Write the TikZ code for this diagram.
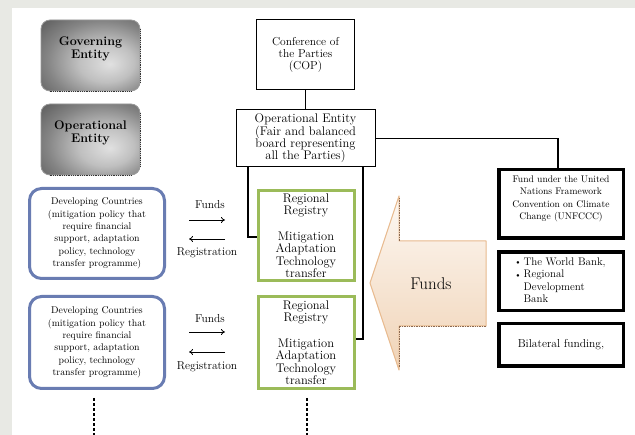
\documentclass[tikz,border=0pt]{standalone}
\usepackage{fontspec}
\usetikzlibrary{arrows.meta}
\definecolor{bggray}{RGB}{232,233,228}
\definecolor{blueC}{RGB}{105,124,178}
\definecolor{greenC}{RGB}{155,187,89}
\definecolor{arrTop}{RGB}{253,248,243}
\definecolor{arrBot}{RGB}{240,211,182}
\definecolor{arrEdge}{RGB}{232,186,142}
\definecolor{arrDot}{RGB}{140,105,80}
\pgfdeclareradialshading{entshade}{\pgfpoint{10bp}{-6bp}}{color(0bp)=(black!12); color(14bp)=(black!25); color(28bp)=(black!48); color(42bp)=(black!66); color(70bp)=(black!76)}
\begin{document}
\begin{tikzpicture}[x=1pt,y=-1pt,
  grayent/.style={rounded corners=9pt, minimum width=99pt, minimum height=71pt, inner sep=0pt,
    draw=gray!80, line width=0.8pt, shading=entshade,
    font=\fontsize{12.5}{12.7}\selectfont\bfseries, align=center},
  bluebox/.style={draw=blueC, line width=3pt, rounded corners=12pt, minimum width=135pt,
    inner sep=0pt, align=center, font=\fontsize{9.8}{12.3}\selectfont},
  greenbox/.style={draw=greenC, line width=3pt, minimum width=96pt, inner sep=0pt,
    align=center, font=\fontsize{12.5}{12.5}\selectfont},
  plainbox/.style={draw=black, line width=1pt, inner sep=0pt, align=center},
  blkbox/.style={draw=black, line width=3.5pt, minimum width=124.5pt, inner sep=0pt, align=center},
  conn/.style={line width=1.2pt},
  flow/.style={-{To[length=4pt,width=6pt]}, line width=0.8pt},
  lbl/.style={font=\fontsize{11.5}{12}\selectfont, inner sep=0pt},
  dotline/.style={line width=2.8pt, dash pattern=on 2.6pt off 2.4pt},
  shadedge/.style={densely dotted, line width=0.8pt, gray!40!black}
]
\useasboundingbox (0,0) rectangle (635,435);
\fill[bggray] (0,0) rectangle (635,435);
\fill[white] (12,8) rectangle (635,435);

% left gray entities
\node[grayent] (gov) at (90.5,55.5) {Governing\\Entity\\[3pt]};
\node[grayent] (ope) at (90.5,139.5) {Operational\\Entity\\[3pt]};
\draw[shadedge] ([xshift=9pt]gov.south west) -- ([xshift=-9pt]gov.south east);
\draw[shadedge] ([yshift=9pt]gov.south east) -- ([yshift=-9pt]gov.north east);
\draw[shadedge] ([xshift=9pt]ope.south west) -- ([xshift=-9pt]ope.south east);
\draw[shadedge] ([yshift=9pt]ope.south east) -- ([yshift=-9pt]ope.north east);

% COP and operational entity
\node[plainbox, minimum width=98pt, minimum height=70pt, font=\fontsize{11.5}{12}\selectfont]
  (cop) at (305.5,55) {Conference of\\the Parties\\(COP)};
\node[plainbox, minimum width=139pt, minimum height=57pt, font=\fontsize{12.5}{12.4}\selectfont]
  (op) at (305.5,138.5) {Operational Entity\\(Fair and balanced\\board representing\\all the Parties)};

% funds on the right
\node[blkbox, minimum height=68.5pt, font=\fontsize{9.6}{12.6}\selectfont] (fund) at (561,204)
  {Fund under the United\\Nations Framework\\Convention on Climate\\Change (UNFCCC)\\\mbox{}};
\node[blkbox, minimum height=58.5pt, font=\fontsize{11}{12.4}\selectfont] (wb) at (561,281.5)
  {\begin{tabular}{@{}l@{\hspace{4pt}}l@{}}\raisebox{0.5pt}{\scalebox{0.6}{$\bullet$}} & The World Bank,\\ \raisebox{0.5pt}{\scalebox{0.6}{$\bullet$}} & Regional\\ & Development\\ & Bank\end{tabular}};
\node[blkbox, minimum height=42.5pt, font=\fontsize{11.5}{12}\selectfont] (bil) at (561,345)
  {Bilateral funding,};

% registries
\node[greenbox, minimum height=90pt] (reg1) at (306,235.5)
  {Regional\\Registry\\[13pt]Mitigation\\Adaptation\\Technology\\transfer};
\node[greenbox, minimum height=92pt] (reg2) at (306,342.5)
  {Regional\\Registry\\[13pt]Mitigation\\Adaptation\\Technology\\transfer};

% developing countries
\node[bluebox, minimum height=90pt] (dev1) at (97,233.5)
  {Developing Countries\\(mitigation policy that\\require financial\\support, adaptation\\policy, technology\\transfer programme)};
\node[bluebox, minimum height=92pt] (dev2) at (97,342.5)
  {Developing Countries\\(mitigation policy that\\require financial\\support, adaptation\\policy, technology\\transfer programme)};

% connectors
\draw[conn] (cop.south) -- (op.north);
\draw[conn] (op.east) -| ([xshift=-3pt]fund.north);
\draw[conn] ([xshift=-57.5pt]op.south) |- ([yshift=-1.5pt]reg1.west);
\draw[conn] ([xshift=57.5pt]op.south) |- ([yshift=3.5pt]reg2.east);

% funds / registration flows
\node[lbl] (f1) at (210,205) {Funds};
\node[lbl] (r1) at (207,253) {Registration};
\node[lbl] (f2) at (210,319) {Funds};
\node[lbl] (r2) at (207,367) {Registration};
\coordinate (a1s) at (189,220); \coordinate (a1e) at (225,220);
\coordinate (b1s) at (225,239); \coordinate (b1e) at (189,239);
\coordinate (a2s) at (189,332); \coordinate (a2e) at (225,332);
\coordinate (b2s) at (225,352); \coordinate (b2e) at (189,352);
\draw[flow] (a1s) -- (a1e);
\draw[flow] (b1s) -- (b1e);
\draw[flow] (a2s) -- (a2e);
\draw[flow] (b2s) -- (b2e);

% big arrow
\shade[top color=arrTop, bottom color=arrBot]
  (370,283) -- (399,196) -- (399,241) -- (486,241) -- (486,326) -- (399,326) -- (399,370) -- cycle;
\draw[arrEdge, line width=1pt, line join=round]
  (370,283) -- (399,196) -- (399,241) -- (486,241) -- (486,326) -- (399,326) -- (399,370) -- cycle;
\draw[densely dotted, arrDot, line width=0.7pt] (399,198) -- (399,241);
\draw[densely dotted, arrDot, line width=0.7pt] (486,326) -- (399,326) -- (399,368);
\node[font=\fontsize{17}{17}\selectfont, inner sep=0pt] (bigf) at (431,284) {Funds};

% continuation dots
\coordinate (d1a) at (94,398); \coordinate (d1b) at (94,436);
\coordinate (d2a) at (307,398); \coordinate (d2b) at (307,436);
\draw[dotline] (d1a) -- (d1b);
\draw[dotline] (d2a) -- (d2b);
\end{tikzpicture}
\end{document}
